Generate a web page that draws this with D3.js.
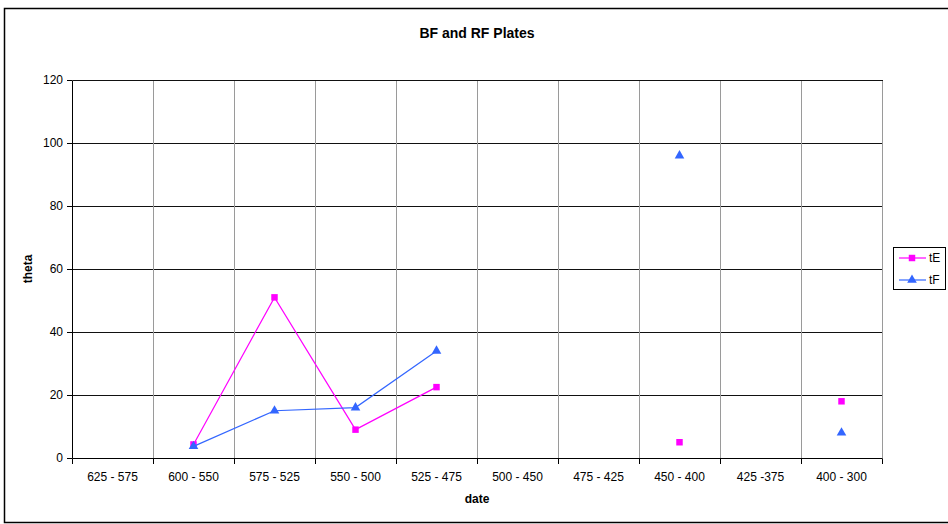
<!DOCTYPE html>
<html><head><meta charset="utf-8">
<script src="https://cdn.jsdelivr.net/npm/d3@7"></script>
<style>body{margin:0;background:#fff}svg{display:block;font-family:Arial,"Liberation Sans",sans-serif}</style>
</head><body>
<script>
const categories = ["625 - 575","600 - 550","575 - 525","550 - 500","525 - 475","500 - 450","475 - 425","450 - 400","425 -375","400 - 300"];
const tE = [null, 4.3, 51, 9, 22.5, null, null, 5, null, 18];
const tF = [null, 3.7, 15, 16, 34, null, null, 96, null, 8];
const yTicks = [0,20,40,60,80,100,120];

const W = 948, H = 524;
const svg = d3.select("body").append("svg").attr("width", W).attr("height", H);
svg.append("rect").attr("x",4.5).attr("y",8.5).attr("width",970).attr("height",514)
  .attr("fill","#fff").attr("stroke","#000").attr("stroke-width",1.5);

const L = 72, R = 882, T = 80, B = 458;
const x = d3.scaleBand().domain(categories).range([L, R]);
const y = d3.scaleLinear().domain([0,120]).range([B, T]);
const grid = svg.append("g").attr("transform","translate(0.5,0.5)").attr("shape-rendering","crispEdges");

// horizontal gridlines
grid.append("g").selectAll("line").data(yTicks.filter(d=>d>0)).join("line")
  .attr("x1",L).attr("x2",R).attr("y1",d=>Math.round(y(d))).attr("y2",d=>Math.round(y(d)))
  .attr("stroke","#111").attr("stroke-width",1);
// vertical gridlines
grid.append("g").selectAll("line").data(d3.range(1, categories.length+1)).join("line")
  .attr("x1",i=>Math.round(L + i*x.step())).attr("x2",i=>Math.round(L + i*x.step()))
  .attr("y1",T).attr("y2",B).attr("stroke","#9a9a9a").attr("stroke-width",1);

// y axis
const yAxis = d3.axisLeft(y).tickValues(yTicks).tickSize(5).tickPadding(4);
const gy = svg.append("g").attr("transform",`translate(${L},0)`).call(yAxis);
gy.select(".domain").attr("stroke","#000");
gy.selectAll("text").attr("font-size",12).attr("fill","#000");

// x axis
const xAxis = d3.axisBottom(x).tickSize(0).tickPadding(14);
const gx = svg.append("g").attr("transform",`translate(0,${B})`).call(xAxis);
gx.select(".domain").attr("stroke","#000").attr("stroke-width",1.2);
gx.selectAll("text").attr("font-size",12).attr("fill","#000");
// x tick marks at band boundaries
grid.append("g").selectAll("line").data(d3.range(categories.length+1)).join("line")
  .attr("x1",i=>Math.round(L + i*x.step())).attr("x2",i=>Math.round(L + i*x.step()))
  .attr("y1",B).attr("y2",B+5).attr("stroke","#000");

// titles
svg.append("text").attr("x",477).attr("y",38).attr("text-anchor","middle")
  .attr("font-size",14).attr("font-weight","bold").text("BF and RF Plates");
svg.append("text").attr("x",477).attr("y",503).attr("text-anchor","middle")
  .attr("font-size",12).attr("font-weight","bold").text("date");
svg.append("text").attr("transform","translate(32,269) rotate(-90)").attr("text-anchor","middle")
  .attr("font-size",12).attr("font-weight","bold").text("theta");

const cx = c => x(c) + x.bandwidth()/2;
const series = [
  {name:"tE", values:tE, color:"#ff00ff", symbol:d3.symbolSquare, size:42},
  {name:"tF", values:tF, color:"#3366ff", symbol:d3.symbolTriangle, size:40}
];
series.forEach(s => {
  const pts = categories.map((c,i)=>({c, v:s.values[i]}));
  const line = d3.line().defined(d=>d.v!=null).x(d=>cx(d.c)).y(d=>y(d.v));
  svg.append("path").datum(pts).attr("d",line).attr("fill","none")
    .attr("stroke",s.color).attr("stroke-width",1.2);
  svg.append("g").selectAll("path").data(pts.filter(d=>d.v!=null)).join("path")
    .attr("transform",d=>`translate(${cx(d.c)},${y(d.v)})`)
    .attr("d",d3.symbol().type(s.symbol).size(s.size)).attr("fill",s.color);
});

// legend
const lg = svg.append("g");
lg.append("rect").attr("x",893.5).attr("y",247.5).attr("width",52).attr("height",42)
  .attr("fill","#fff").attr("stroke","#000");
series.forEach((s,i)=>{
  const yy = 258 + i*22;
  lg.append("line").attr("x1",899).attr("x2",926).attr("y1",yy).attr("y2",yy)
    .attr("stroke",s.color).attr("stroke-width",1.2);
  lg.append("path").attr("transform",`translate(912,${yy})`)
    .attr("d",d3.symbol().type(s.symbol).size(s.size)).attr("fill",s.color);
  lg.append("text").attr("x",929).attr("y",yy+4).attr("font-size",12).text(s.name);
});
</script>
</body></html>
